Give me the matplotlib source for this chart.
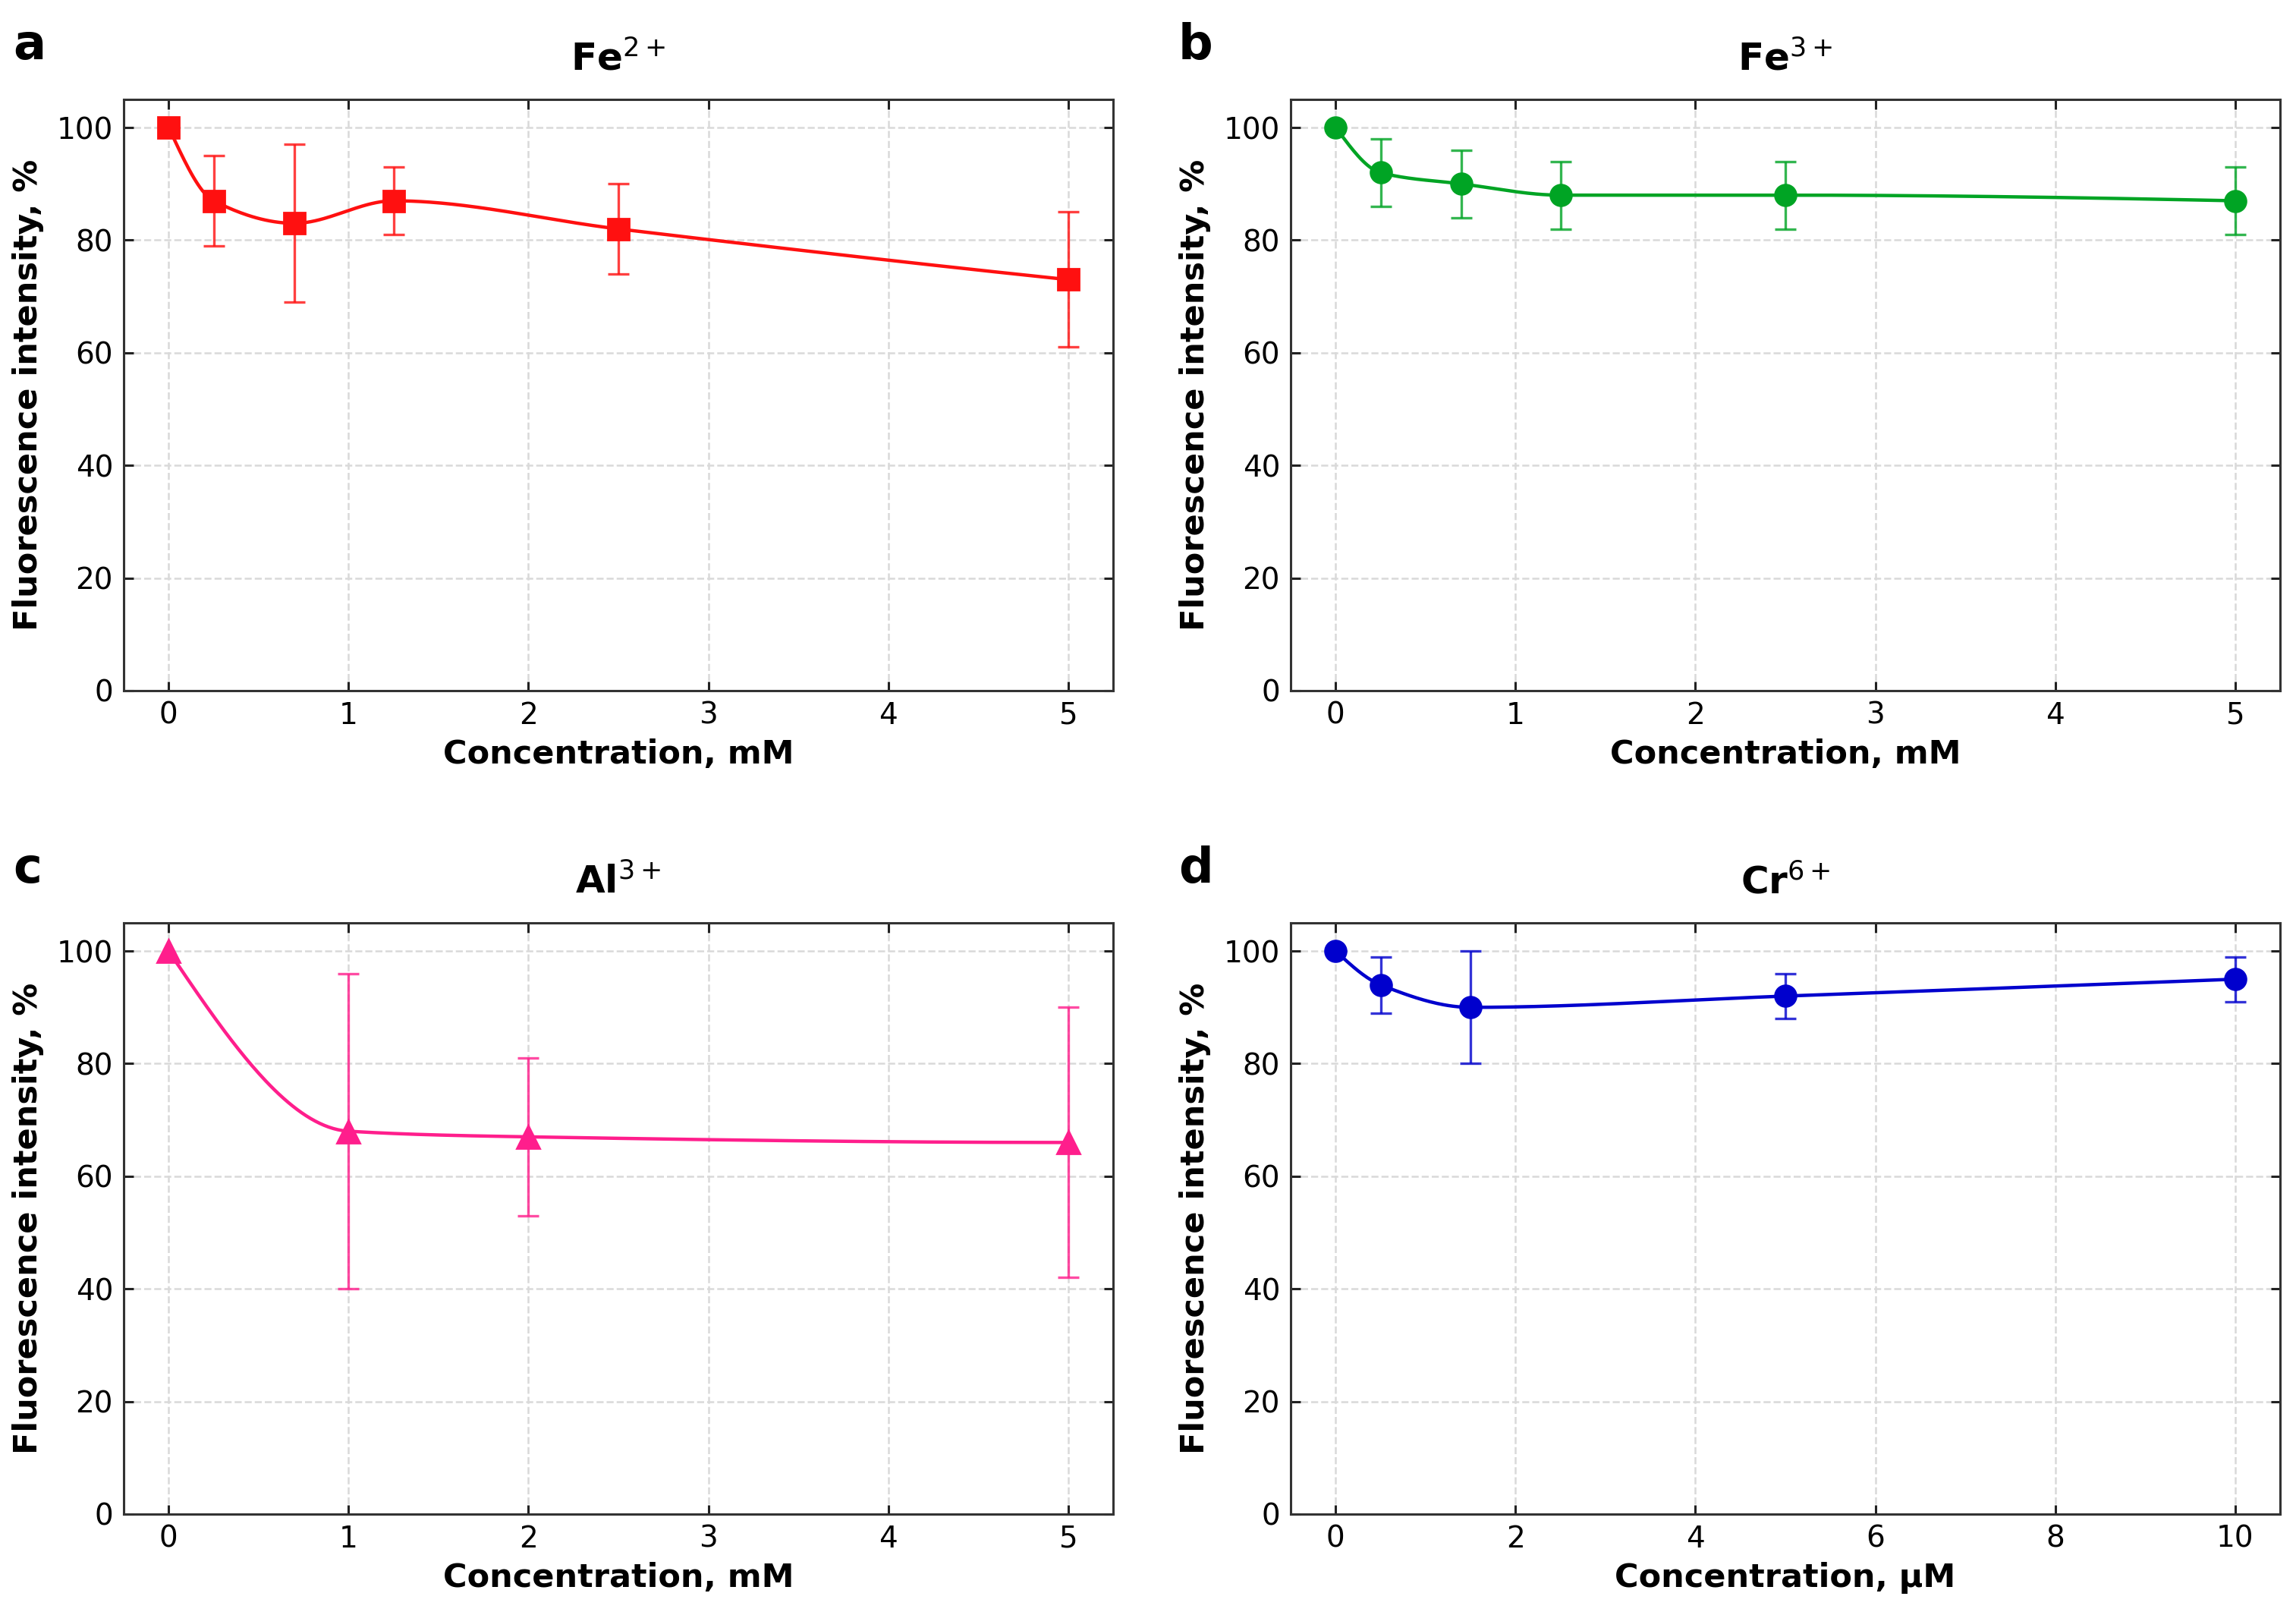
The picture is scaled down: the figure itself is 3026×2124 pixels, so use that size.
import matplotlib
matplotlib.use('Agg')
import matplotlib.pyplot as plt
import numpy as np

# ─── Data ──────────────────────────────────────────────────────────────────────
fe2_x   = [0, 0.25, 0.7, 1.25, 2.5, 5]
fe2_y   = [100, 87, 83, 87, 82, 73]
fe2_err = [0, 8, 14, 6, 8, 12]

fe3_x   = [0, 0.25, 0.7, 1.25, 2.5, 5]
fe3_y   = [100, 92, 90, 88, 88, 87]
fe3_err = [0, 6, 6, 6, 6, 6]

al3_x   = [0, 1, 2, 5]
al3_y   = [100, 68, 67, 66]
al3_err = [0, 28, 14, 24]

cr6_x   = [0, 0.5, 1.5, 5, 10]
cr6_y   = [100, 94, 90, 92, 95]
cr6_err = [0, 5, 10, 4, 4]

TITLES  = ['Fe$^{2+}$', 'Fe$^{3+}$', 'Al$^{3+}$', 'Cr$^{6+}$']
LETTERS = ['a', 'b', 'c', 'd']
XLABELS = ['Concentration, mM', 'Concentration, mM',
           'Concentration, mM', 'Concentration, \u00b5M']
COLORS  = ['#ff1010', '#00a424', '#ff1e8c', '#0000cd']
MARKERS = ['s', 'o', '^', 'o']


def pchip(x, y, xs):
    """Shape-preserving cubic through the points (used only for the drawn line)."""
    x = np.asarray(x, float)
    y = np.asarray(y, float)
    h = np.diff(x)
    d = np.diff(y) / h
    n = len(x)
    m = np.zeros(n)
    for k in range(1, n - 1):
        if d[k - 1] * d[k] > 0:
            w1 = 2 * h[k] + h[k - 1]
            w2 = h[k] + 2 * h[k - 1]
            m[k] = (w1 + w2) / (w1 / d[k - 1] + w2 / d[k])

    def end(h0, h1, d0, d1):
        v = ((2 * h0 + h1) * d0 - h0 * d1) / (h0 + h1)
        if np.sign(v) != np.sign(d0):
            v = 0.0
        elif np.sign(d0) != np.sign(d1) and abs(v) > abs(3 * d0):
            v = 3 * d0
        return v

    m[0] = end(h[0], h[1], d[0], d[1])
    m[-1] = end(h[-1], h[-2], d[-1], d[-2])

    idx = np.clip(np.searchsorted(x, xs) - 1, 0, n - 2)
    t = (xs - x[idx]) / h[idx]
    h00 = 2 * t**3 - 3 * t**2 + 1
    h10 = t**3 - 2 * t**2 + t
    h01 = -2 * t**3 + 3 * t**2
    h11 = t**3 - t**2
    return (h00 * y[idx] + h10 * h[idx] * m[idx]
            + h01 * y[idx + 1] + h11 * h[idx] * m[idx + 1])


plt.rcParams.update({
    'font.family': 'DejaVu Sans',
    'axes.linewidth': 1.1,
    'axes.edgecolor': '#333333',
})

fig = plt.figure(figsize=(15.13, 10.62), dpi=200)

W, H = 3026, 2124
AX_W = 1304 / W
AX_H = 779 / H
POS = [
    (163 / W, 1 - 910 / H),
    (1701 / W, 1 - 910 / H),
    (163 / W, 1 - 1995 / H),
    (1701 / W, 1 - 1995 / H),
]
LETTER_POS = [(17, 78), (1553, 78), (17, 1163), (1553, 1163)]

series = [
    (fe2_x, fe2_y, fe2_err),
    (fe3_x, fe3_y, fe3_err),
    (al3_x, al3_y, al3_err),
    (cr6_x, cr6_y, cr6_err),
]

for i, (xs, ys, es) in enumerate(series):
    ax = fig.add_axes([POS[i][0], POS[i][1], AX_W, AX_H])
    col = COLORS[i]
    xa = np.asarray(xs, float)
    ya = np.asarray(ys, float)
    ea = np.asarray(es, float)

    # smooth line
    xf = np.linspace(xa[0], xa[-1], 400)
    ax.plot(xf, pchip(xa, ya, xf), color=col, lw=1.6, zorder=3)

    # error bars (skip zero-error reference point)
    mask = ea > 0
    ax.errorbar(xa[mask], ya[mask], yerr=ea[mask], fmt='none', ecolor=col,
                elinewidth=1.2, capsize=5, capthick=1.2, alpha=0.8, zorder=2)

    ax.plot(xa, ya, linestyle='none', marker=MARKERS[i], color=col,
            markersize=10 if MARKERS[i] != '^' else 10.5, zorder=4)

    ax.set_ylim(0, 105)
    ax.set_yticks([0, 20, 40, 60, 80, 100])
    ax.margins(x=0.05)

    ax.grid(True, linestyle='--', color='#d9d9d9', linewidth=0.9, zorder=0)
    ax.set_axisbelow(True)
    ax.tick_params(direction='in', top=True, right=True, length=4.5,
                   width=1.1, color='#222222', labelsize=14, pad=5)

    ax.set_xlabel(XLABELS[i], fontsize=15.5, fontweight='bold', labelpad=4)
    ax.set_ylabel('Fluorescence intensity, %', fontsize=15.5,
                  fontweight='bold', labelpad=6)
    ax.set_title(TITLES[i], fontsize=18, fontweight='bold', pad=14)

    lx, ly = LETTER_POS[i]
    fig.text(lx / W, 1 - ly / H, LETTERS[i], fontsize=23, fontweight='bold',
             ha='left', va='baseline')

fig.savefig('out.png', dpi=200)
